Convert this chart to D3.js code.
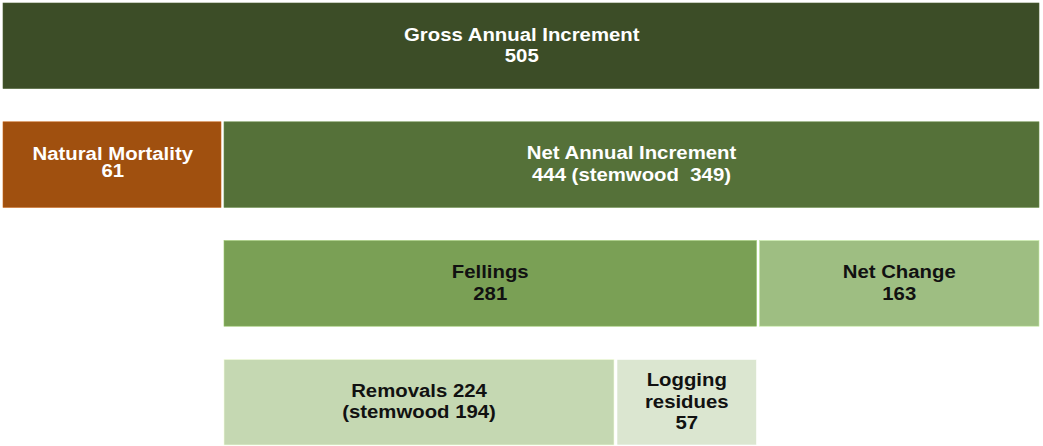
<!DOCTYPE html>
<html>
<head>
<meta charset="utf-8">
<script src="https://cdn.jsdelivr.net/npm/d3@7"></script>
<style>
  body { margin: 0; background: #fff; }
  text { font-family: "Liberation Sans", Arial, sans-serif; font-weight: bold; white-space: pre; }
</style>
</head>
<body>
<div id="container"></div>
<script>
const width = 1043;
const height = 446;

// flow of annual increment, one block per entry
const blockIds = ["gross", "mortality", "netIncrement", "fellings", "netChange", "removals", "residues"];
const blockValues = [505, 61, 444, 281, 163, 224, 57];
// where each block starts, in the same units (stacked inside its parent)
const blockOffsets = [0, 0, 61, 61, 342, 61, 285];
const blockRows = ["row1", "row2", "row2", "row3", "row3", "row4", "row4"];
const blockLabels = [
	["Gross Annual Increment", "505"],
	["Natural Mortality", "61"],
	["Net Annual Increment", "444 (stemwood  349)"],
	["Fellings", "281"],
	["Net Change", "163"],
	["Removals 224", "(stemwood 194)"],
	["Logging", "residues", "57"]
];
const rowNames = ["row1", "row2", "row3", "row4"];

const palette = ["#3c4d27", "#a0500f", "#557139", "#7aa055", "#9ebe82", "#c5d8b2", "#dbe6d0"];
const textColors = ["#ffffff", "#ffffff", "#ffffff", "#111111", "#111111", "#111111", "#111111"];

// blocks are not drawn to scale in the original, so a piecewise scale is used
const x = d3.scaleLinear()
	.domain([0, 61, 285, 342, 505])
	.range([3, 222.5, 615.5, 758, 1040.5]);

const y = d3.scaleBand()
	.domain(rowNames)
	.range([3, 445])
	.paddingInner(0.28);

const color = d3.scaleOrdinal().domain(blockIds).range(palette);
const ink = d3.scaleOrdinal().domain(blockIds).range(textColors);

const blocks = blockIds.map((id, i) => ({
	id: id,
	value: blockValues[i],
	start: blockOffsets[i],
	end: blockOffsets[i] + blockValues[i],
	row: blockRows[i],
	lines: blockLabels[i]
}));

const svg = d3.select("#container")
	.append("svg")
	.attr("width", width)
	.attr("height", height);

const gap = 1.5;

const g = svg.selectAll("g.block")
	.data(blocks)
	.enter()
	.append("g")
	.attr("class", "block");

g.append("rect")
	.attr("x", d => x(d.start) + (d.start === 0 ? 0 : gap))
	.attr("y", d => y(d.row))
	.attr("width", d => x(d.end) - x(d.start) - (d.start === 0 ? 0 : gap) - gap)
	.attr("height", y.bandwidth())
	.attr("fill", d => color(d.id))
	.attr("stroke", d => d3.color(color(d.id)).brighter(0.6))
	.attr("stroke-width", 0.6);

// labels, slightly stretched like the source picture
g.append("text")
	.attr("transform", d => {
		const cx = (x(d.start) + x(d.end)) / 2;
		const cy = y(d.row) + y.bandwidth() / 2 - (d.id === "mortality" ? 2.5 : 1);
		return "translate(" + cx + "," + cy + ") scale(1.1,1)";
	})
	.attr("text-anchor", "middle")
	.attr("font-size", "18.5px")
	.attr("fill", d => ink(d.id))
	.each(function(d) {
		const lh = d.id === "mortality" ? 17 : 21.5;
		const first = -((d.lines.length - 1) * lh) / 2;
		d3.select(this).selectAll("tspan")
			.data(d.lines)
			.enter()
			.append("tspan")
			.attr("x", 0)
			.attr("y", (t, k) => first + k * lh)
			.attr("dy", "0.35em")
			.text(t => t);
	});
</script>
</body>
</html>
